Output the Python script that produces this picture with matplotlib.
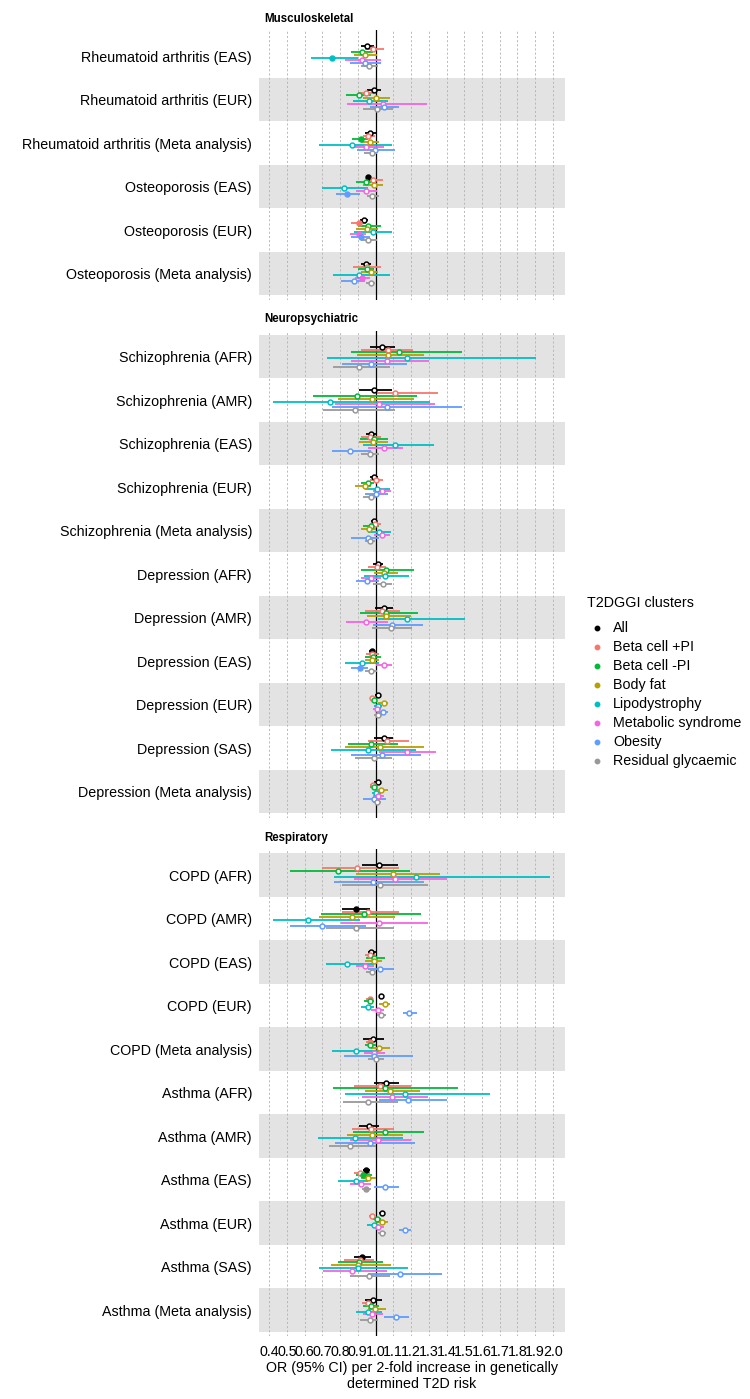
import matplotlib
matplotlib.use("Agg")
import matplotlib.pyplot as plt
from matplotlib.lines import Line2D
import numpy as np

plt.rcParams["font.family"] = ["Liberation Sans", "DejaVu Sans"]

# ============================================================
# Data (OR, lower, upper) per cluster, one value per outcome row
# ============================================================

groups = ["Musculoskeletal", "Neuropsychiatric", "Respiratory"]

outcomes = [
    # Musculoskeletal
    "Rheumatoid arthritis (EAS)", "Rheumatoid arthritis (EUR)",
    "Rheumatoid arthritis (Meta analysis)", "Osteoporosis (EAS)",
    "Osteoporosis (EUR)", "Osteoporosis (Meta analysis)",
    # Neuropsychiatric
    "Schizophrenia (AFR)", "Schizophrenia (AMR)", "Schizophrenia (EAS)",
    "Schizophrenia (EUR)", "Schizophrenia (Meta analysis)",
    "Depression (AFR)", "Depression (AMR)", "Depression (EAS)",
    "Depression (EUR)", "Depression (SAS)", "Depression (Meta analysis)",
    # Respiratory
    "COPD (AFR)", "COPD (AMR)", "COPD (EAS)", "COPD (EUR)",
    "COPD (Meta analysis)", "Asthma (AFR)", "Asthma (AMR)",
    "Asthma (EAS)", "Asthma (EUR)", "Asthma (SAS)", "Asthma (Meta analysis)",
]
group_sizes = [6, 11, 11]

clusters = ["All", "Beta cell +PI", "Beta cell -PI", "Body fat",
            "Lipodystrophy", "Metabolic syndrome", "Obesity",
            "Residual glycaemic"]
colors = ["black", "#F8766D", "#00BA38", "#B79F00",
          "#00BFC4", "#F564E3", "#619CFF", "#999999"]

all_or = [0.950, 0.990, 0.966, 0.959, 0.933, 0.948,
          1.037, 0.990, 0.976, 0.989, 0.989, 1.013, 1.050, 0.978, 1.013, 1.045, 1.013,
          1.017, 0.888, 0.976, 1.032, 0.985, 1.060, 0.963, 0.948, 1.037, 0.925, 0.985]
all_lo = [0.920, 0.950, 0.940, 0.945, 0.910, 0.920,
          0.966, 0.906, 0.948, 0.966, 0.975, 0.985, 0.998, 0.963, 0.998, 0.994, 0.994,
          0.925, 0.813, 0.958, 1.017, 0.929, 0.994, 0.905, 0.930, 1.022, 0.878, 0.938]
all_hi = [0.990, 1.030, 1.000, 0.975, 0.957, 0.976,
          1.110, 1.093, 1.004, 1.013, 1.003, 1.040, 1.097, 0.994, 1.028, 1.099, 1.032,
          1.127, 0.966, 1.002, 1.047, 1.045, 1.135, 1.022, 0.966, 1.050, 0.976, 1.036]

bpos_or = [0.985, 0.944, 0.960, 0.985, 0.906, 0.950,
           1.073, 1.112, 0.966, 1.000, 0.998, 1.009, 1.036, 0.981, 0.980, 1.066, 0.983,
           0.893, 0.957, 0.970, 0.966, 0.966, 1.024, 0.976, 0.910, 0.981, 0.912, 0.959]
bpos_lo = [0.940, 0.900, 0.930, 0.946, 0.864, 0.873,
           0.920, 1.010, 0.916, 0.966, 0.966, 0.960, 0.938, 0.944, 0.966, 0.957, 0.966,
           0.700, 0.811, 0.938, 0.948, 0.948, 0.878, 0.867, 0.878, 0.963, 0.822, 0.925]
bpos_hi = [1.050, 0.990, 0.995, 1.040, 0.948, 1.028,
           1.210, 1.353, 1.028, 1.040, 1.028, 1.060, 1.138, 1.017, 0.994, 1.190, 1.004,
           1.130, 1.130, 0.998, 0.985, 0.994, 1.200, 1.103, 0.966, 0.998, 0.994, 0.989]

bneg_or = [0.925, 0.906, 0.916, 0.944, 0.957, 0.950,
           1.135, 0.893, 0.989, 0.957, 0.972, 1.060, 1.060, 0.985, 0.990, 0.976, 0.989,
           0.787, 0.935, 0.990, 0.966, 0.970, 1.054, 1.052, 0.929, 1.009, 0.906, 0.976]
bneg_lo = [0.860, 0.835, 0.870, 0.888, 0.900, 0.900,
           0.864, 0.649, 0.910, 0.920, 0.929, 0.920, 0.910, 0.938, 0.972, 0.845, 0.966,
           0.518, 0.695, 0.948, 0.935, 0.942, 0.760, 0.873, 0.892, 0.985, 0.789, 0.929]
bneg_hi = [0.985, 0.975, 0.957, 0.985, 1.028, 0.994,
           1.490, 1.234, 1.070, 0.994, 1.017, 1.215, 1.237, 1.028, 1.009, 1.125, 1.009,
           1.196, 1.256, 1.054, 0.994, 1.004, 1.465, 1.271, 0.980, 1.032, 1.041, 1.022]

fat_or = [0.940, 1.000, 0.966, 0.990, 0.953, 0.972,
          1.070, 0.980, 0.985, 0.938, 0.963, 1.050, 1.060, 0.981, 1.045, 1.024, 1.030,
          1.100, 0.869, 0.989, 1.056, 1.019, 1.082, 0.981, 0.957, 1.037, 0.900, 0.998]
fat_lo = [0.880, 0.930, 0.920, 0.930, 0.892, 0.916,
          0.897, 0.789, 0.906, 0.882, 0.920, 0.994, 0.953, 0.938, 1.013, 0.826, 0.998,
          0.888, 0.682, 0.938, 1.022, 0.976, 0.938, 0.841, 0.920, 1.004, 0.748, 0.957]
fat_hi = [1.010, 1.080, 1.020, 1.040, 1.013, 1.013,
          1.275, 1.215, 1.070, 0.976, 1.004, 1.125, 1.200, 1.022, 1.069, 1.271, 1.069,
          1.364, 1.110, 1.037, 1.084, 1.082, 1.250, 1.153, 1.004, 1.069, 1.088, 1.060]

lipo_or = [0.757, 0.963, 0.865, 0.820, 0.983, 0.907,
           1.178, 0.744, 1.110, 1.007, 1.019, 1.054, 1.176, 0.923, 1.013, 0.960, 1.004,
           1.230, 0.620, 0.839, 0.957, 0.888, 1.168, 0.886, 0.892, 0.994, 0.900, 0.957]
lipo_lo = [0.635, 0.873, 0.680, 0.700, 0.880, 0.760,
           0.727, 0.424, 0.930, 0.938, 0.957, 0.935, 1.013, 0.826, 0.990, 0.750, 0.980,
           0.766, 0.424, 0.718, 0.916, 0.755, 0.830, 0.677, 0.789, 0.953, 0.682, 0.892]
lipo_hi = [0.900, 1.070, 1.090, 0.960, 1.093, 1.080,
           1.906, 1.308, 1.330, 1.084, 1.088, 1.187, 1.503, 1.022, 1.035, 1.228, 1.028,
           1.981, 0.914, 0.994, 0.991, 1.022, 1.643, 1.157, 0.957, 1.022, 1.185, 1.036]

mets_or = [0.925, 1.040, 0.948, 0.944, 0.905, 0.923,
           1.064, 1.017, 1.047, 1.034, 1.039, 0.972, 0.944, 1.045, 1.006, 1.176, 1.013,
           1.110, 1.022, 0.942, 1.013, 0.989, 1.092, 1.013, 0.920, 1.013, 0.867, 0.981]
mets_lo = [0.830, 0.840, 0.880, 0.888, 0.854, 0.882,
           0.864, 0.774, 0.957, 0.985, 0.990, 0.916, 0.836, 1.004, 0.985, 1.022, 0.985,
           0.878, 0.807, 0.892, 0.976, 0.935, 0.923, 0.854, 0.854, 0.985, 0.705, 0.929]
mets_hi = [1.030, 1.290, 1.050, 1.010, 0.948, 0.966,
           1.303, 1.335, 1.153, 1.088, 1.084, 1.032, 1.069, 1.093, 1.028, 1.340, 1.050,
           1.400, 1.297, 0.994, 1.050, 1.054, 1.297, 1.200, 0.976, 1.045, 1.065, 1.041]

obes_or = [0.940, 1.047, 0.996, 0.839, 0.916, 0.878,
           0.976, 1.062, 0.854, 1.004, 0.957, 0.953, 1.093, 0.912, 1.041, 1.039, 0.989,
           0.985, 0.699, 1.024, 1.190, 0.994, 1.181, 0.970, 1.056, 1.164, 1.138, 1.116]
obes_lo = [0.855, 0.970, 0.895, 0.775, 0.864, 0.807,
           0.810, 0.757, 0.757, 0.938, 0.864, 0.888, 0.985, 0.864, 1.009, 0.864, 0.929,
           0.766, 0.518, 0.957, 1.153, 0.822, 1.017, 0.770, 0.990, 1.135, 0.957, 1.050]
obes_hi = [1.030, 1.130, 1.107, 0.910, 0.966, 0.938,
           1.180, 1.486, 0.976, 1.070, 1.017, 1.017, 1.270, 0.957, 1.069, 1.256, 1.060,
           1.275, 0.944, 1.103, 1.234, 1.210, 1.400, 1.224, 1.130, 1.200, 1.372, 1.190]

resid_or = [0.963, 1.007, 0.980, 0.980, 0.957, 0.974,
            0.906, 0.882, 0.966, 0.976, 0.968, 1.041, 1.088, 0.976, 1.015, 0.994, 1.009,
            1.024, 0.892, 0.980, 1.032, 1.000, 0.957, 0.858, 0.948, 1.036, 0.963, 0.966]
resid_lo = [0.920, 0.930, 0.935, 0.950, 0.916, 0.948,
            0.760, 0.705, 0.916, 0.929, 0.938, 0.985, 0.980, 0.938, 0.994, 0.882, 0.985,
            0.811, 0.718, 0.948, 1.009, 0.957, 0.817, 0.738, 0.925, 1.013, 0.854, 0.910]
resid_hi = [1.015, 1.097, 1.010, 1.020, 1.009, 0.998,
            1.080, 1.107, 1.017, 1.004, 0.998, 1.092, 1.206, 1.009, 1.035, 1.090, 1.032,
            1.297, 1.103, 1.004, 1.060, 1.050, 1.125, 1.000, 0.972, 1.060, 1.079, 1.013]

# rows (1-based, over all outcomes) drawn with a filled point
all_filled = [4, 14, 19, 25, 27]
bpos_filled = [5, 21, 22]
bneg_filled = [3, 25]
fat_filled = []
lipo_filled = [1]
mets_filled = [5, 6]
obes_filled = [4, 5, 14]
resid_filled = [25]

series = [
    (all_or, all_lo, all_hi, all_filled),
    (bpos_or, bpos_lo, bpos_hi, bpos_filled),
    (bneg_or, bneg_lo, bneg_hi, bneg_filled),
    (fat_or, fat_lo, fat_hi, fat_filled),
    (lipo_or, lipo_lo, lipo_hi, lipo_filled),
    (mets_or, mets_lo, mets_hi, mets_filled),
    (obes_or, obes_lo, obes_hi, obes_filled),
    (resid_or, resid_lo, resid_hi, resid_filled),
]

xticks = np.round(np.arange(0.4, 2.01, 0.1), 1)

# ============================================================
# Layout (pixel based)
# ============================================================
W, H = 750, 1399
row_px = 43.5
panel_left, panel_right = 259, 565
panel_tops = [30, 330.6, 849]
dodge = 0.065
fs = 10.3

fig = plt.figure(figsize=(W / 100, H / 100), dpi=100)

start = 0
for g, (name, n, top) in enumerate(zip(groups, group_sizes, panel_tops)):
    h = (n - 1 + 1.2) * row_px
    ax = fig.add_axes([panel_left / W, 1 - (top + h) / H,
                       (panel_right - panel_left) / W, h / H])
    rows = np.arange(1, n + 1)

    # alternating bands, bottom row shaded
    for i in range(n):
        if (n - 1 - i) % 2 == 0:
            ax.axhspan(rows[i] - 0.5, rows[i] + 0.5, color="#e3e3e3", lw=0, zorder=0)
    for xv in xticks:
        ax.axvline(xv, color="#b0b0b0", lw=0.6, dashes=(2.5, 2.5), zorder=1)
    ax.axvline(1.0, color="black", lw=0.9, zorder=2)

    for k, (est, lo, hi, filled) in enumerate(series):
        y = rows + (k - 3.5) * dodge
        e = np.array(est[start:start + n])
        l = np.array(lo[start:start + n])
        u = np.array(hi[start:start + n])
        ax.hlines(y, l, u, color=colors[k], lw=1.3, zorder=3)
        for i in range(n):
            solid = (start + i + 1) in filled
            ax.plot(e[i], y[i], "o", ms=3.5, mew=1.1, mec=colors[k],
                    mfc=colors[k] if solid else "white", zorder=4)

    ax.set_xlim(0.343, 2.068)
    ax.set_ylim(n + 0.6, 0.4)
    ax.set_yticks(rows)
    ax.set_yticklabels(outcomes[start:start + n], fontsize=fs)
    ax.set_xticks(xticks)
    if g == len(groups) - 1:
        ax.set_xticklabels([f"{v:.1f}" for v in xticks], fontsize=fs)
    else:
        ax.set_xticklabels([])
    ax.tick_params(length=0, axis="y", pad=5)
    ax.tick_params(length=0, axis="x", pad=6.5)
    for s in ax.spines.values():
        s.set_visible(False)

    fig.text(264 / W, 1 - (top - 11.5) / H, name, fontsize=8.3,
             fontweight="bold", va="center", ha="left")
    start += n

fig.text((panel_left + panel_right) / 2 / W, 1 - 1376 / H,
         "OR (95% CI) per 2-fold increase in genetically\ndetermined T2D risk",
         ha="center", va="center", fontsize=fs, linespacing=1.15)

# ============================================================
# Legend (placed by pixel position)
# ============================================================
fig.text(587 / W, 1 - 603 / H, "T2DGGI clusters", fontsize=fs,
         ha="left", va="center")
for k, (name, c) in enumerate(zip(clusters, colors)):
    yk = 1 - (628 + 19 * k) / H
    fig.add_artist(Line2D([597 / W], [yk], ls="none", marker="o", ms=3.2,
                          color=c, transform=fig.transFigure))
    fig.text(613 / W, yk, name, fontsize=fs, ha="left", va="center")

fig.savefig("out.png", dpi=100)
